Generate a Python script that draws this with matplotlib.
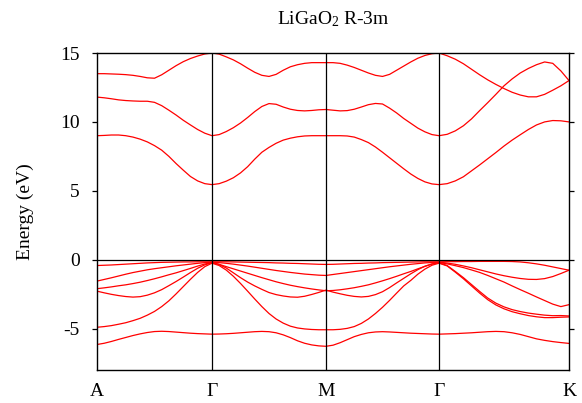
import numpy as np
import matplotlib
matplotlib.use("Agg")
import matplotlib.pyplot as plt

plt.rcParams["font.family"] = ["Liberation Serif", "DejaVu Serif"]
plt.rcParams["mathtext.fontset"] = "custom"
plt.rcParams["mathtext.rm"] = "Liberation Serif"
plt.rcParams["mathtext.default"] = "regular"
plt.rcParams["axes.unicode_minus"] = False

# High-symmetry path: cumulative k-distance of each node and its label
kpath_nodes = [0.0, 1.0, 1.991, 2.974, 4.104]
kpath_labels = ["A", "Γ", "M", "Γ", "K"]
points_per_segment = 16

# Band energies (eV) along A-Γ-M-Γ-K, 16 steps per segment
band_c1 = [9.0, 9.02, 9.05, 9.05, 9.0, 8.9, 8.75, 8.55, 8.28, 7.95, 7.5, 6.98, 6.5, 6.04, 5.72, 5.52, 5.45,
           5.52, 5.7, 5.95, 6.3, 6.75, 7.3, 7.8, 8.15, 8.45, 8.68, 8.82, 8.92, 8.98, 9.0, 9.0, 9.0,
           9.0, 9.0, 8.98, 8.9, 8.72, 8.5, 8.18, 7.8, 7.4, 7.0, 6.6, 6.22, 5.9, 5.65, 5.5, 5.45,
           5.52, 5.72, 6.02, 6.45, 6.88, 7.33, 7.78, 8.25, 8.68, 9.07, 9.45, 9.78, 10.0, 10.1, 10.08, 10.0]
band_c2 = [11.8, 11.75, 11.68, 11.6, 11.55, 11.52, 11.5, 11.5, 11.42, 11.18, 10.85, 10.5, 10.12, 9.78, 9.45, 9.18, 9.0,
           9.08, 9.3, 9.58, 9.92, 10.32, 10.75, 11.12, 11.33, 11.28, 11.08, 10.92, 10.83, 10.8, 10.83, 10.88, 10.9,
           10.85, 10.8, 10.82, 10.92, 11.08, 11.25, 11.34, 11.3, 11.0, 10.65, 10.25, 9.9, 9.55, 9.28, 9.08, 9.0,
           9.1, 9.35, 9.72, 10.22, 10.82, 11.4, 12.0, 12.62, 13.12, 13.55, 13.88, 14.15, 14.35, 14.25, 13.7, 13.0]
band_c3 = [13.5, 13.5, 13.48, 13.46, 13.43, 13.38, 13.3, 13.2, 13.17, 13.42, 13.75, 14.08, 14.37, 14.6, 14.78, 14.93, 15.0,
           14.92, 14.72, 14.5, 14.22, 13.9, 13.6, 13.38, 13.3, 13.45, 13.75, 14.0, 14.15, 14.25, 14.3, 14.3, 14.3,
           14.3, 14.25, 14.12, 13.95, 13.75, 13.55, 13.38, 13.3, 13.45, 13.75, 14.05, 14.35, 14.62, 14.82, 14.95, 15.0,
           14.8, 14.55, 14.22, 13.82, 13.42, 13.05, 12.72, 12.42, 12.15, 11.95, 11.82, 11.82, 12.0, 12.3, 12.62, 13.0]
band_v1 = [-0.42, -0.4, -0.38, -0.35, -0.32, -0.29, -0.26, -0.23, -0.21, -0.19, -0.18, -0.17, -0.16, -0.16, -0.15, -0.15, -0.15,
           -0.15, -0.15, -0.16, -0.17, -0.18, -0.19, -0.2, -0.21, -0.23, -0.24, -0.26, -0.27, -0.29, -0.31, -0.33, -0.34,
           -0.33, -0.31, -0.29, -0.27, -0.26, -0.24, -0.23, -0.21, -0.2, -0.19, -0.18, -0.17, -0.16, -0.15, -0.15, -0.15,
           -0.14, -0.14, -0.13, -0.13, -0.12, -0.12, -0.12, -0.12, -0.13, -0.16, -0.22, -0.3, -0.4, -0.52, -0.64, -0.76]
band_v2 = [-1.55, -1.43, -1.31, -1.18, -1.05, -0.93, -0.83, -0.73, -0.65, -0.58, -0.51, -0.44, -0.38, -0.32, -0.26, -0.21, -0.18,
           -0.21, -0.26, -0.32, -0.39, -0.46, -0.54, -0.62, -0.7, -0.78, -0.85, -0.92, -0.98, -1.04, -1.08, -1.12, -1.14,
           -1.07, -1.0, -0.93, -0.86, -0.79, -0.72, -0.65, -0.58, -0.51, -0.45, -0.39, -0.33, -0.28, -0.23, -0.2, -0.18,
           -0.24, -0.33, -0.45, -0.58, -0.73, -0.88, -1.03, -1.16, -1.27, -1.36, -1.42, -1.43, -1.37, -1.22, -1.0, -0.76]
band_v3 = [-2.1, -2.04, -1.97, -1.89, -1.82, -1.73, -1.63, -1.51, -1.38, -1.24, -1.09, -0.95, -0.79, -0.63, -0.46, -0.31, -0.2,
           -0.33, -0.5, -0.66, -0.82, -0.98, -1.14, -1.3, -1.45, -1.6, -1.73, -1.85, -1.95, -2.04, -2.12, -2.19, -2.25,
           -2.23, -2.18, -2.11, -2.03, -1.93, -1.82, -1.68, -1.53, -1.37, -1.2, -1.02, -0.85, -0.66, -0.48, -0.32, -0.2,
           -0.3, -0.43, -0.57, -0.74, -0.92, -1.14, -1.38, -1.62, -1.9, -2.17, -2.43, -2.7, -2.96, -3.22, -3.4, -3.26]
band_v4 = [-2.28, -2.4, -2.51, -2.6, -2.67, -2.71, -2.68, -2.57, -2.4, -2.17, -1.88, -1.58, -1.26, -0.93, -0.62, -0.37, -0.22,
           -0.35, -0.6, -0.95, -1.3, -1.62, -1.9, -2.15, -2.38, -2.53, -2.63, -2.7, -2.72, -2.65, -2.52, -2.37, -2.2,
           -2.35, -2.47, -2.58, -2.66, -2.7, -2.66, -2.53, -2.32, -2.02, -1.68, -1.35, -1.02, -0.72, -0.47, -0.3, -0.22,
           -0.42, -0.85, -1.3, -1.8, -2.3, -2.78, -3.15, -3.42, -3.62, -3.76, -3.87, -3.95, -4.02, -4.06, -4.05, -4.08]
band_v5 = [-4.9, -4.85, -4.78, -4.68, -4.57, -4.42, -4.25, -4.02, -3.75, -3.4, -2.98, -2.48, -1.95, -1.42, -0.92, -0.5, -0.25,
           -0.42, -0.75, -1.2, -1.72, -2.28, -2.85, -3.4, -3.9, -4.3, -4.6, -4.82, -4.95, -5.02, -5.06, -5.08, -5.08,
           -5.08, -5.05, -4.98, -4.85, -4.62, -4.3, -3.9, -3.45, -2.95, -2.42, -1.9, -1.5, -1.05, -0.68, -0.4, -0.25,
           -0.45, -0.9, -1.38, -1.9, -2.42, -2.9, -3.28, -3.56, -3.77, -3.92, -4.05, -4.14, -4.2, -4.2, -4.17, -4.15]
band_v6 = [-6.15, -6.06, -5.93, -5.78, -5.64, -5.5, -5.38, -5.28, -5.21, -5.19, -5.21, -5.25, -5.29, -5.33, -5.36, -5.38, -5.4,
           -5.39, -5.37, -5.34, -5.3, -5.26, -5.22, -5.2, -5.22, -5.3, -5.45, -5.65, -5.88, -6.06, -6.18, -6.25, -6.28,
           -6.2, -6.02, -5.8, -5.58, -5.42, -5.3, -5.24, -5.22, -5.24, -5.27, -5.3, -5.33, -5.35, -5.37, -5.39, -5.4,
           -5.38, -5.36, -5.33, -5.3, -5.26, -5.22, -5.2, -5.22, -5.3, -5.42, -5.58, -5.74, -5.85, -5.94, -6.01, -6.07]

bands = [band_c1, band_c2, band_c3,
         band_v1, band_v2, band_v3, band_v4, band_v5, band_v6]

# k grid shared by every band
k = [kpath_nodes[0]]
for a, b in zip(kpath_nodes[:-1], kpath_nodes[1:]):
    k.extend(np.linspace(a, b, points_per_segment + 1)[1:])
k = np.array(k)

fig = plt.figure(figsize=(5.82, 4.03), dpi=100)
ax = fig.add_axes([97 / 582, 33 / 403, 472 / 582, 317 / 403])

for e in bands:
    ax.plot(k, e, color="#ff0000", lw=0.9, solid_joinstyle="round")

for x in kpath_nodes[1:-1]:
    ax.axvline(x, color="black", lw=0.9)
ax.axhline(0, color="black", lw=0.9)

ax.set_xlim(kpath_nodes[0], kpath_nodes[-1])
ax.set_ylim(-8, 15)
ax.set_xticks(kpath_nodes)
ax.set_xticklabels(kpath_labels)
ax.set_yticks([-5, 0, 5, 10, 15])
ax.tick_params(axis="x", length=0, pad=9, labelsize=14)
ax.tick_params(axis="y", direction="out", length=3.5, width=0.9, pad=9,
               labelsize=14, right=True)
for s in ax.spines.values():
    s.set_linewidth(1.0)

ax.set_ylabel("Energy (eV)", fontsize=14, labelpad=19)
ax.set_title(r"LiGaO$_2$ R-3m", fontsize=14, pad=21)

fig.savefig("out.png", dpi=100)
